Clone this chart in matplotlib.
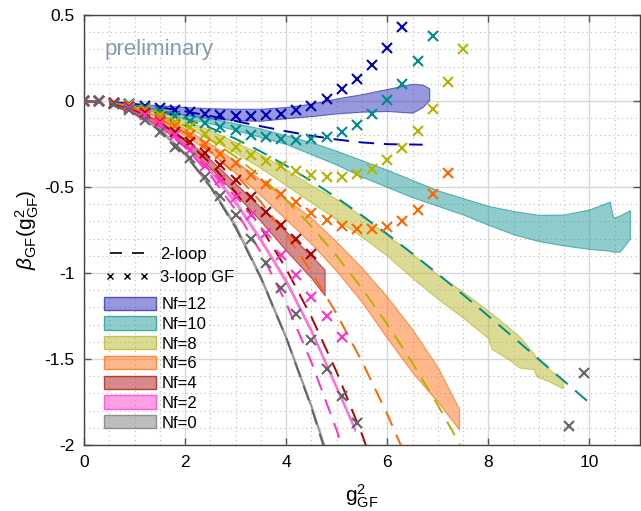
import matplotlib
matplotlib.use('Agg')
import matplotlib.pyplot as plt
from matplotlib.lines import Line2D
from matplotlib.patches import Patch
from matplotlib.ticker import MultipleLocator

plt.rcParams['font.family'] = ['Liberation Sans', 'DejaVu Sans']
plt.rcParams['axes.unicode_minus'] = False
plt.rcParams['mathtext.fontset'] = 'custom'
plt.rcParams['mathtext.rm'] = 'Liberation Sans'
plt.rcParams['mathtext.it'] = 'Liberation Sans:italic'

# ---- data ----
nf_labels = ['Nf=12', 'Nf=10', 'Nf=8', 'Nf=6', 'Nf=4', 'Nf=2', 'Nf=0']

# 3-loop GF points (crosses), common g^2 grid
g2_pts = [0.0, 0.3, 0.6, 0.9, 1.2, 1.5, 1.8, 2.1, 2.4, 2.7, 3.0, 3.3, 3.6,
          3.9, 4.2, 4.5, 4.8, 5.1, 5.4, 5.7, 6.0, 6.3, 6.6, 6.9, 7.2, 7.5]
gf3_nf12 = [0.0, 0.0, -0.01, -0.02, -0.03, -0.04, -0.05, -0.066, -0.074, -0.08,
            -0.085, -0.085, -0.081, -0.074, -0.052, -0.029, 0.013, 0.068, 0.13,
            0.21, 0.31, 0.43]
gf3_nf10 = [0.0, 0.0, -0.01, -0.02, -0.04, -0.06, -0.09, -0.115, -0.13, -0.15,
            -0.17, -0.195, -0.211, -0.223, -0.227, -0.223, -0.207, -0.178, -0.14,
            -0.078, 0.006, 0.10, 0.23, 0.38]
gf3_nf8 = [0.0, 0.0, -0.01, -0.025, -0.05, -0.08, -0.12, -0.15, -0.19, -0.235,
           -0.27, -0.314, -0.349, -0.378, -0.407, -0.43, -0.444, -0.444, -0.424,
           -0.397, -0.343, -0.271, -0.174, -0.047, 0.112, 0.304]
gf3_nf6 = [0.0, 0.0, -0.01, -0.03, -0.06, -0.10, -0.145, -0.195, -0.25, -0.31,
           -0.362, -0.43, -0.485, -0.54, -0.59, -0.649, -0.693, -0.727, -0.744,
           -0.746, -0.735, -0.696, -0.634, -0.543, -0.42]
gf3_nf4 = [0.0, 0.0, -0.01, -0.035, -0.07, -0.12, -0.178, -0.237, -0.30, -0.372,
           -0.46, -0.556, -0.643, -0.72, -0.80, -0.89]
gf3_nf2 = [0.0, 0.0, -0.015, -0.04, -0.08, -0.13, -0.20, -0.285, -0.375, -0.46,
           -0.556, -0.66, -0.77, -0.895, -1.01, -1.14, -1.25, -1.37]
gf3_nf0 = [0.0, 0.0, -0.02, -0.05, -0.11, -0.178, -0.266, -0.333, -0.44, -0.55,
           -0.66, -0.80, -0.94, -1.09, -1.24, -1.39, -1.56, -1.715, -1.87]
gf3_nf0_far_x = [9.6, 9.9]
gf3_nf0_far_y = [-1.89, -1.58]

# 2-loop curves (dashed)
loop2_x = [0.0, 0.5, 1.0, 1.5, 2.0, 2.5, 3.0, 3.5, 4.0, 4.5, 5.0, 5.5, 6.0,
           6.5, 7.0, 7.5, 8.0, 8.5, 9.0, 9.5, 10.0]
loop2_x12 = [0.0, 0.5, 1.0, 1.5, 2.0, 2.5, 3.0, 3.5, 4.0, 4.5, 5.0, 5.5, 6.0,
             6.5, 6.7]
loop2_nf12 = [0.0, -0.005, -0.017, -0.036, -0.060, -0.087, -0.117, -0.147,
              -0.176, -0.202, -0.224, -0.241, -0.251, -0.253, -0.254]
loop2_nf10 = [0.0, -0.007, -0.027, -0.058, -0.102, -0.156, -0.220, -0.294,
              -0.376, -0.466, -0.562, -0.666, -0.774, -0.888, -1.005, -1.126,
              -1.250, -1.375, -1.502, -1.629, -1.755]
loop2_nf8 = [0.0, -0.009, -0.036, -0.081, -0.144, -0.225, -0.324, -0.441,
             -0.576, -0.729, -0.901, -1.090, -1.298, -1.524, -1.768, -2.030]
loop2_nf6 = [0.0, -0.011, -0.045, -0.103, -0.186, -0.293, -0.427, -0.588,
             -0.776, -0.993, -1.239, -1.515, -1.821, -2.159]
loop2_nf4 = [0.0, -0.014, -0.055, -0.126, -0.228, -0.362, -0.531, -0.735,
             -0.976, -1.256, -1.577, -1.939, -2.345]
loop2_nf2 = [0.0, -0.016, -0.064, -0.148, -0.270, -0.431, -0.634, -0.882,
             -1.176, -1.520, -1.915, -2.364]
loop2_nf0 = [0.0, -0.018, -0.074, -0.171, -0.311, -0.499, -0.737, -1.029,
             -1.376, -1.783, -2.253]

# bands (x, lower edge, upper edge)
band12_x = [1.2, 1.5, 2.0, 2.5, 3.0, 3.5, 4.0, 4.5, 5.0, 5.5, 6.0, 6.5, 6.7, 6.83]
band12_lo = [-0.04, -0.055, -0.08, -0.10, -0.112, -0.115, -0.10, -0.088, -0.072,
             -0.062, -0.058, -0.068, -0.035, 0.006]
band12_hi = [-0.02, -0.025, -0.035, -0.042, -0.045, -0.045, -0.035, -0.015, 0.015,
             0.04, 0.07, 0.10, 0.095, 0.074]

band10_x = [1.2, 1.5, 2.0, 2.5, 3.0, 3.5, 4.0, 4.5, 5.0, 5.5, 6.0, 6.5, 7.0, 7.5,
            8.0, 8.5, 9.0, 9.5, 10.0, 10.4, 10.47, 10.6, 10.8]
band10_lo = [-0.05, -0.07, -0.10, -0.13, -0.17, -0.21, -0.25, -0.31, -0.37, -0.44,
             -0.50, -0.56, -0.61, -0.66, -0.72, -0.775, -0.815, -0.84, -0.86,
             -0.87, -0.876, -0.876, -0.80]
band10_hi = [-0.03, -0.05, -0.08, -0.10, -0.13, -0.16, -0.20, -0.24, -0.29, -0.345,
             -0.40, -0.46, -0.52, -0.565, -0.61, -0.64, -0.662, -0.66, -0.63,
             -0.585, -0.68, -0.665, -0.635]

band8_x = [1.2, 1.5, 2.0, 2.5, 3.0, 3.5, 4.0, 4.5, 5.0, 5.5, 6.0, 6.5, 7.0, 7.5,
           8.0, 8.06, 8.42, 8.62, 8.9, 8.95, 9.2, 9.47]
band8_lo = [-0.06, -0.09, -0.15, -0.22, -0.30, -0.39, -0.49, -0.59, -0.69, -0.79,
            -0.90, -1.03, -1.15, -1.26, -1.38, -1.44, -1.506, -1.55, -1.56, -1.60,
            -1.63, -1.67]
band8_hi = [-0.04, -0.06, -0.11, -0.17, -0.24, -0.31, -0.40, -0.49, -0.57, -0.67,
            -0.78, -0.89, -1.01, -1.11, -1.22, -1.235, -1.32, -1.37, -1.47, -1.50,
            -1.56, -1.62]

band6_x = [1.2, 1.5, 2.0, 2.5, 3.0, 3.5, 4.0, 4.5, 5.0, 5.5, 6.0, 6.5, 7.0, 7.42]
band6_lo = [-0.08, -0.12, -0.20, -0.30, -0.42, -0.55, -0.69, -0.83, -0.99, -1.17,
            -1.38, -1.58, -1.75, -1.91]
band6_hi = [-0.06, -0.09, -0.16, -0.25, -0.35, -0.46, -0.57, -0.68, -0.82, -0.97,
            -1.14, -1.33, -1.55, -1.79]

band4_x = [1.2, 1.5, 2.0, 2.5, 3.0, 3.5, 4.0, 4.5, 4.76]
band4_lo = [-0.10, -0.15, -0.26, -0.39, -0.54, -0.70, -0.87, -1.03, -1.13]
band4_hi = [-0.08, -0.12, -0.22, -0.34, -0.48, -0.62, -0.76, -0.90, -0.98]

band2_x = [1.2, 1.5, 2.0, 2.5, 3.0, 3.5, 4.0, 4.5, 5.0, 5.36]
band2_lo = [-0.10, -0.145, -0.265, -0.415, -0.60, -0.82, -1.06, -1.35, -1.68, -1.92]
band2_hi = [-0.09, -0.13, -0.25, -0.40, -0.58, -0.80, -1.04, -1.33, -1.66, -1.90]

band0_x = [1.2, 1.5, 2.0, 2.5, 3.0, 3.5, 4.0, 4.5, 4.8]
band0_lo = [-0.11, -0.175, -0.315, -0.505, -0.74, -1.04, -1.39, -1.79, -2.06]
band0_hi = [-0.10, -0.16, -0.30, -0.49, -0.72, -1.02, -1.37, -1.77, -2.04]

# colours: marker/dash colour and band fill colour
line_colors = ['#0000b4', '#008c8c', '#b4b400', '#ff6600', '#b00000', '#ff32c8', '#646464']
band_colors = ['#3333bb', '#239b9b', '#b9b92d', '#ff7319', '#af1919', '#ff41cd', '#7d7d7d']

gf3_all = [gf3_nf12, gf3_nf10, gf3_nf8, gf3_nf6, gf3_nf4, gf3_nf2, gf3_nf0]
loop2_all = [(loop2_x12, loop2_nf12), (loop2_x, loop2_nf10), (loop2_x, loop2_nf8),
             (loop2_x, loop2_nf6), (loop2_x, loop2_nf4), (loop2_x, loop2_nf2),
             (loop2_x, loop2_nf0)]
bands_all = [(band12_x, band12_lo, band12_hi), (band10_x, band10_lo, band10_hi),
             (band8_x, band8_lo, band8_hi), (band6_x, band6_lo, band6_hi),
             (band4_x, band4_lo, band4_hi), (band2_x, band2_lo, band2_hi),
             (band0_x, band0_lo, band0_hi)]

DASH = (0, (8, 5))

fig = plt.figure(figsize=(6.41, 5.11), dpi=100)
ax = fig.add_axes([84 / 641, 66 / 511, 556 / 641, 430 / 511])

# bands
for (bx, blo, bhi), c in zip(bands_all, band_colors):
    ax.fill_between(bx, blo, bhi, facecolor=matplotlib.colors.to_rgba(c, 0.5),
                    edgecolor=matplotlib.colors.to_rgba(c, 0.7), lw=0.8, zorder=2)

# 2-loop dashed curves
for (lx, ly), c in zip(loop2_all, line_colors):
    ax.plot(lx[:len(ly)], ly, color=c, ls=DASH, lw=1.4, zorder=3)

# 3-loop GF crosses
for gy, c in zip(gf3_all, line_colors):
    ax.plot(g2_pts[:len(gy)], gy, ls='none', marker='x', ms=7, mew=1.5,
            color=c, zorder=4)
ax.plot(gf3_nf0_far_x, gf3_nf0_far_y, ls='none', marker='x', ms=7, mew=1.5,
        color=line_colors[-1], zorder=4)

# axes, ticks, grid
ax.set_xlim(0, 11)
ax.set_ylim(-2, 0.5)
ax.xaxis.set_major_locator(MultipleLocator(2))
ax.xaxis.set_minor_locator(MultipleLocator(0.5))
ax.yaxis.set_major_locator(MultipleLocator(0.5))
ax.yaxis.set_minor_locator(MultipleLocator(0.1))
ax.set_yticks([0.5, 0, -0.5, -1, -1.5, -2])
ax.set_yticklabels(['0.5', '0', '-0.5', '-1', '-1.5', '-2'])
ax.tick_params(which='major', direction='in', length=5, width=1, color='#555555',
               top=True, right=True, labelsize=12.5, pad=7)
ax.tick_params(which='minor', length=0, top=True, right=True)
ax.grid(which='major', color='#d8d8d8', lw=1.0, ls='-', zorder=0)
ax.grid(which='minor', color='#bbbbbb', lw=0.8, ls=(0, (1, 3)), zorder=0)
ax.set_axisbelow(True)
for sp in ax.spines.values():
    sp.set_color('#444444')
    sp.set_linewidth(1.0)

ax.set_xlabel(r'$\mathrm{g}^2_{\mathrm{GF}}$', fontsize=15, labelpad=9)
ax.set_ylabel(r'$\beta_{\mathrm{GF}}(\mathrm{g}^2_{\mathrm{GF}})$', fontsize=15, labelpad=2)

ax.text(0.4, 0.3, 'preliminary', color='#8a9aac', fontsize=16, va='center', zorder=5)

# legends
line_handles = [Line2D([], [], color='k', ls=(0, (7.2, 6)), lw=1.2),
                Line2D([], [], color='k', ls='none', marker='x', ms=5, mew=1.0)]
leg1 = ax.legend(line_handles, ['2-loop', '3-loop GF'], loc='upper left',
                 bbox_to_anchor=(0.037, 0.460), frameon=False, fontsize=12,
                 handlelength=2.65, handletextpad=0.67, labelspacing=0.45,
                 numpoints=3, borderpad=0, borderaxespad=0)
ax.add_artist(leg1)

patch_handles = [Patch(facecolor=matplotlib.colors.to_rgba(c, 0.5),
                       edgecolor=matplotlib.colors.to_rgba(c, 0.8), lw=1.0)
                 for c in band_colors]
ax.legend(patch_handles, nf_labels, loc='upper left', bbox_to_anchor=(0.036, 0.345),
          frameon=False, fontsize=12, handlelength=3.1, handleheight=0.85,
          handletextpad=0.35, labelspacing=0.26, borderpad=0, borderaxespad=0)

fig.savefig('out.png', dpi=100)
